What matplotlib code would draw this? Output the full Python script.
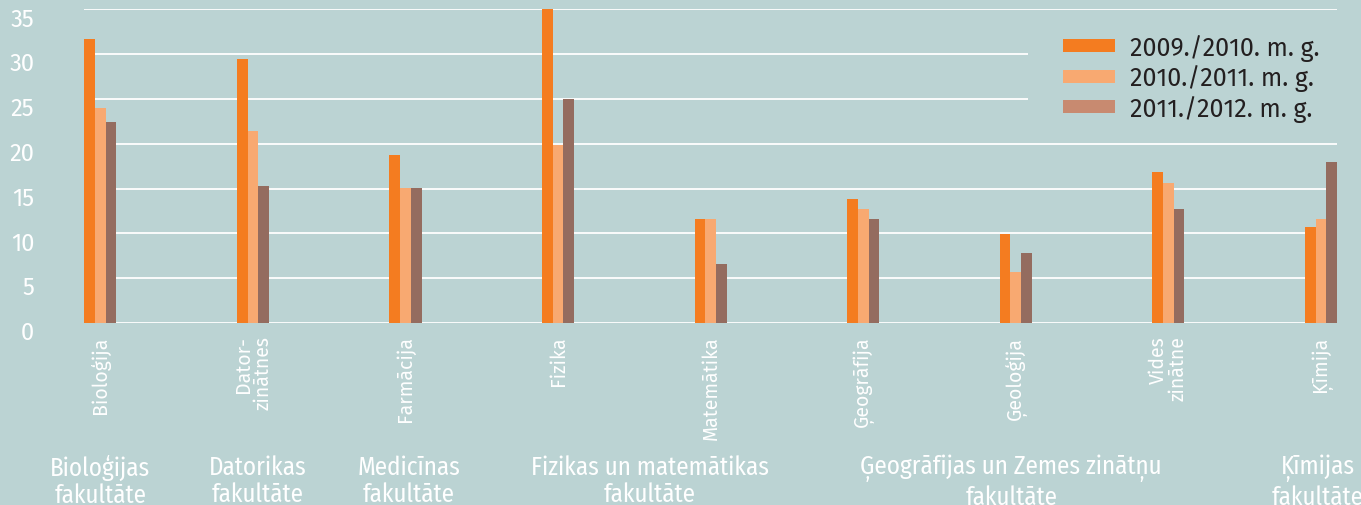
import matplotlib
matplotlib.use("Agg")
import matplotlib.pyplot as plt
import matplotlib.transforms as mtransforms
from matplotlib.patches import Patch, Rectangle
import numpy as np

plt.rcParams['font.family'] = ['Fira Sans', 'Lato', 'DejaVu Sans']
COND = ['Fira Sans Condensed', 'Fira Sans', 'Lato', 'DejaVu Sans']

categories = ["Bioloģija", "Dator-\nzinātnes", "Farmācija", "Fizika", "Matemātika",
              "Ģeogrāfija", "Ģeoloģija", "Vides\nzinātne", "Ķīmija"]
series_names = ["2009./2010. m. g.", "2010./2011. m. g.", "2011./2012. m. g."]
v2009 = [31.7, 29.5, 18.7, 35.0, 11.65, 13.8, 9.9, 16.9, 10.7]
v2010 = [24.0, 21.4, 15.1, 19.9, 11.65, 12.75, 5.7, 15.65, 11.65]
v2011 = [22.4, 15.25, 15.1, 25.0, 6.6, 11.65, 7.8, 12.75, 18.0]
yticks = [0, 5, 10, 15, 20, 25, 30, 35]
faculties = ["Bioloģijas\nfakultāte", "Datorikas\nfakultāte", "Medicīnas\nfakultāte",
             "Fizikas un matemātikas\nfakultāte", "Ģeogrāfijas un Zemes zinātņu\nfakultāte",
             "Ķīmijas\nfakultāte"]
faculty_pos = [0.0, 1.03, 2.02, 3.6, 5.97, 7.98]

bg = "#BBD3D3"
bar_colors = ["#F47C20", "#F8A971", "#946C5F"]
legend_colors = ["#F47C20", "#F8A971", "#C88A70"]

fig = plt.figure(figsize=(13.61, 5.06), dpi=100, facecolor=bg)
ax = fig.add_axes([84.3 / 1361, 182 / 506, (1337 - 84.3) / 1361, 313.6 / 506])
ax.set_facecolor(bg)

x = np.arange(len(categories))
w = 0.07
for i, vals in enumerate([v2009, v2010, v2011]):
    ax.bar(x + (i - 1) * w, vals, width=w, color=bar_colors[i], zorder=3, linewidth=0)

ax.set_xlim(-1.5 * w, len(categories) - 1 + 1.5 * w)
ax.set_ylim(0, 35)
ax.set_yticks(yticks)
ax.set_yticklabels([str(t) for t in yticks])
ax.grid(axis='y', color='white', linewidth=1.3, zorder=0)
ax.set_axisbelow(True)
for s in ax.spines.values():
    s.set_visible(False)

ax.tick_params(axis='y', length=0, pad=36, labelsize=17, labelcolor='white')
off = mtransforms.ScaledTranslation(0, -7 / 100, fig.dpi_scale_trans)
for lab in ax.get_yticklabels():
    lab.set_transform(lab.get_transform() + off)

ax.set_xticks(x)
ax.set_xticklabels(categories, rotation=90, fontsize=14, color='white',
                   va='top', ha='center', linespacing=1.0)
for lab in ax.get_xticklabels():
    lab.set_multialignment('right')
ax.tick_params(axis='x', length=0, pad=9)

# cover gridlines behind legend
ax.add_patch(Rectangle((0.753, 21.5), 0.25, 12.5,
                       transform=mtransforms.blended_transform_factory(ax.transAxes, ax.transData),
                       facecolor=bg, edgecolor='none', zorder=1))

handles = [Patch(facecolor=c, edgecolor='none') for c in legend_colors]
leg = ax.legend(handles, series_names, loc='upper left', bbox_to_anchor=(0.781, 0.922),
                frameon=False, fontsize=18, handlelength=2.1, handleheight=0.42,
                handletextpad=0.6, labelspacing=0.14, borderpad=0, borderaxespad=0)
for t in leg.get_texts():
    t.set_color('#231F20')

tr = mtransforms.blended_transform_factory(ax.transData, fig.transFigure)
for name, p in zip(faculties, faculty_pos):
    ax.text(p, (506 - 455) / 506, name, transform=tr, ha='center', va='top',
            fontsize=18, color='white', linespacing=1.12, clip_on=False, family=COND)

fig.savefig("out.png", dpi=100, facecolor=bg)
